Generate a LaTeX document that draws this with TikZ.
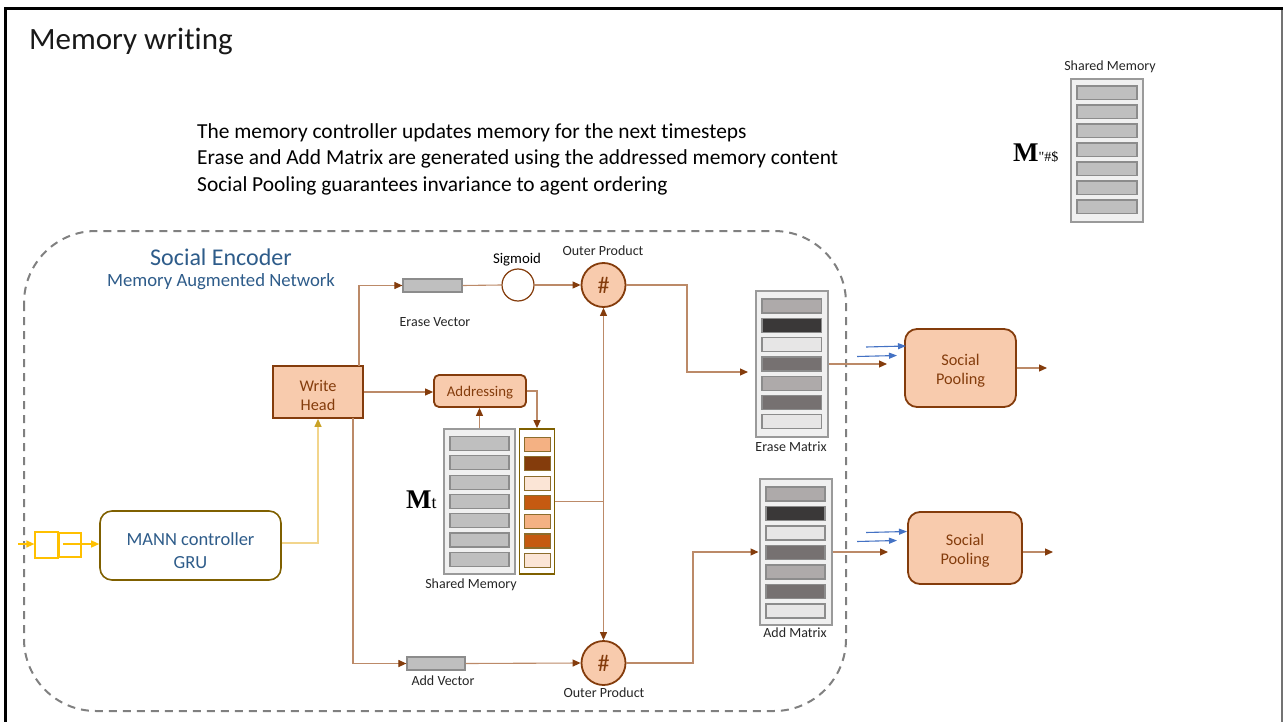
\documentclass[tikz,border=0pt]{standalone}
\usepackage{fontspec}
\setmainfont{Carlito}[Ligatures={TeX,CommonOff}]
\newfontfamily\serifbf{Liberation Serif}
\usetikzlibrary{arrows.meta,calc}

\definecolor{peach}{HTML}{F8CBAD}
\definecolor{rust}{HTML}{843C0C}
\definecolor{wire}{HTML}{BC8A68}
\definecolor{navy}{HTML}{2E5C8A}
\definecolor{olive}{HTML}{7F6000}
\definecolor{amber}{HTML}{FFC000}
\definecolor{paleamber}{HTML}{F2D58C}
\definecolor{amberdark}{HTML}{C9A227}
\definecolor{memfill}{HTML}{F0F0F0}
\definecolor{memedge}{HTML}{9A9A9A}
\definecolor{barfill}{HTML}{BFBFBF}
\definecolor{baredge}{HTML}{8C8C8C}
\definecolor{poolblue}{HTML}{4472C4}
\definecolor{wA}{HTML}{F4B183}
\definecolor{wB}{HTML}{843C0C}
\definecolor{wC}{HTML}{FBE5D6}
\definecolor{wD}{HTML}{C55A11}
\definecolor{wedge}{HTML}{8C6D2C}
\definecolor{mA}{HTML}{AEAAAA}
\definecolor{mB}{HTML}{3A3838}
\definecolor{mC}{HTML}{E7E6E6}
\definecolor{mD}{HTML}{767171}

\newcommand\fsz[2]{\fontsize{#1}{#2}\selectfont}

\tikzset{
  peachbox/.style={draw=rust, fill=peach, line width=1.8pt, inner sep=0pt},
  boxtext/.style={text=rust, align=center, inner sep=0pt},
  opcircle/.style={circle, draw=rust, fill=peach, line width=1.8pt, minimum size=44pt, inner sep=0pt, text=rust, font=\fsz{24}{26}},
  vecbox/.style={draw=baredge, fill=barfill, line width=1.2pt, minimum width=59pt, minimum height=13pt, inner sep=0pt},
  memcol/.style={draw=memedge, fill=memfill, line width=2pt, inner sep=0pt},
  smalllabel/.style={font=\fsz{14}{16}, text=black!85, inner sep=0pt},
  conn/.style={draw=wire, line width=1.1pt, -{Triangle[length=8pt,width=7pt,color=rust]}},
  plainwire/.style={draw=wire, line width=1.1pt},
  goldconn/.style={draw=paleamber, line width=1.3pt, -{Triangle[length=8pt,width=7pt,color=amberdark]}},
  inconn/.style={draw=amber, line width=1.3pt, -{Triangle[length=8pt,width=7pt,color=amber]}},
  blueconn/.style={draw=poolblue, line width=1.1pt, -{Triangle[length=8pt,width=6pt,color=poolblue]}},
  bullet/.style={anchor=base west, inner sep=0pt, font=\fsz{21.4}{25}},
}

\begin{document}
\begin{tikzpicture}[x=1pt,y=-1pt]
\useasboundingbox (0,0) rectangle (1284,722);
\fill[white] (0,0) rectangle (1284,722);

% slide frame
\draw[line width=2.5pt, black!55] (1282,9) -- (1282,730);
\draw[line width=3pt, black] (5,730) -- (5,9) -- (1283,9);

% title and bullet text
\node[anchor=base west, inner sep=0pt, font=\fsz{31}{35}, text=black!90] (title) at (29,50) {Memory writing};
\node[bullet] (l1) at (197,139) {The memory controller updates memory for the next timesteps};
\node[bullet] (l2) at (197,165) {Erase and Add Matrix are generated using the addressed memory content};
\node[bullet] (l3) at (197,192) {Social Pooling guarantees invariance to agent ordering};

% shared memory at the next step
\node[memcol, minimum width=72pt, minimum height=142pt] (nextmem) at (1106.5,150.5) {};
\foreach \i in {0,...,6}
  \draw[draw=baredge, fill=barfill, line width=1.2pt] (1077,86+19*\i) rectangle ++(60,13.5);
\node[smalllabel] (nextmemlbl) at (1110,67) {Shared Memory};
\node[anchor=base west, inner sep=0pt] (nextM) at (1013,162)
  {{\serifbf\bfseries\fsz{27}{30}M}{\serifbf\fsz{14}{16}\symbol{34}\#\$}};

% social encoder boundary
\draw[draw=black!50, line width=2pt, dash pattern=on 8pt off 6pt, rounded corners=72pt]
  (24,231) rectangle (846,711);
\node[font=\fsz{24}{28}, text=navy, inner sep=0pt] (enc) at (221,257) {Social Encoder};
\node[font=\fsz{18.7}{22}, text=navy, inner sep=0pt] (encsub) at (221,282) {Memory Augmented Network};

% controller and write head
\node[draw=olive, line width=1.6pt, rounded corners=12pt, fill=white, minimum width=181pt, minimum height=69pt, inner sep=0pt] (gru) at (190.5,545.5) {};
\node[align=center, text=navy, font=\fsz{18.5}{23}, inner sep=0pt] (grutext) at (190.5,551) {MANN controller\\GRU};
\node[draw=amber, line width=1.2pt, minimum width=23pt, minimum height=26pt, inner sep=0pt] (in1) at (46.5,545) {};
\node[draw=amber, line width=1.2pt, minimum width=22pt, minimum height=24pt, inner sep=0pt] (in2) at (70,545) {};
\coordinate (src) at (18,544);
\draw[inconn] (src) -- (src -| in1.west);
\draw[inconn] ($(in2.west)+(5,-1)$) -- (gru.west |- 0,544);

\node[peachbox, minimum width=90pt, minimum height=52pt] (wh) at (318,392) {};
\node[boxtext, font=\fsz{16.3}{19}] (whtext) at (318,395) {Write\\Head};
\draw[goldconn] (gru.east |- 0,543) -| (wh.south);

% addressing
\node[peachbox, rounded corners=5pt, minimum width=92pt, minimum height=32pt] (addr) at (480,391) {};
\node[boxtext, font=\fsz{14.8}{17}] (addrtext) at (480,393) {Addressing};

% shared memory M_t and its weighting
\node[memcol, minimum width=71pt, minimum height=145pt] (mt) at (479.5,501.5) {};
\foreach \i in {0,...,6}
  \draw[draw=baredge, fill=barfill, line width=1.2pt] (450,436.5+19.3*\i) rectangle ++(59,14);
\node[draw=olive, line width=1.8pt, fill=white, minimum width=35pt, minimum height=145pt, inner sep=0pt] (wc) at (537,501.5) {};
\foreach \c [count=\i from 0] in {wA,wB,wC,wD,wA,wD,wC}
  \draw[draw=wedge, fill=\c, line width=1.2pt] (524.5,437.5+19.3*\i) rectangle ++(26,14);
\node[anchor=base west, inner sep=0pt] (mtlbl) at (406,508)
  {{\serifbf\bfseries\fsz{27}{30}M}{\serifbf\fsz{18}{20}t}};
\node[smalllabel] (mtcap) at (471,585) {Shared Memory};

% erase branch
\node[vecbox] (ev) at (432.5,285.5) {};
\node[smalllabel] (evlbl) at (435,322) {Erase Vector};
\node[circle, draw=rust, line width=1.2pt, fill=white, minimum size=32pt, inner sep=0pt] (sig) at (518,285) {};
\node[font=\fsz{14.8}{17}, inner sep=0pt] (siglbl) at (517,260) {Sigmoid};
\node[opcircle] (opt) at (603.5,285) {\#};
\node[smalllabel] (optlbl) at (603,251) {Outer Product};

% add branch
\node[vecbox, minimum width=58pt] (av) at (436,663.5) {};
\node[smalllabel] (avlbl) at (443,681) {Add Vector};
\node[opcircle] (opb) at (603.5,663) {\#};
\node[smalllabel] (opblbl) at (604,693) {Outer Product};

% erase and add matrices
\node[memcol, minimum width=72pt, minimum height=146pt] (em) at (792,364) {};
\foreach \c [count=\i from 0] in {mA,mB,mC,mD,mA,mD,mC}
  \draw[draw=baredge, fill=\c, line width=1.2pt] (762,299+19.3*\i) rectangle ++(59.5,14);
\node[smalllabel] (emlbl) at (791,447) {Erase Matrix};
\node[memcol, minimum width=72pt, minimum height=146pt] (am) at (795.5,552) {};
\foreach \c [count=\i from 0] in {mA,mB,mC,mD,mA,mD,mC}
  \draw[draw=baredge, fill=\c, line width=1.2pt] (766,487+19.5*\i) rectangle ++(59,14);
\node[smalllabel] (amlbl) at (795,633) {Add Matrix};

% social pooling
\node[peachbox, rounded corners=12pt, minimum width=111pt, minimum height=78pt] (spt) at (960.5,368) {};
\node[boxtext, font=\fsz{16.3}{19}] (spttext) at (960.5,371) {Social\\Pooling};
\node[peachbox, rounded corners=12pt, minimum width=114pt, minimum height=72pt] (spb) at (965,548) {};
\node[boxtext, font=\fsz{16.3}{19}] (spbtext) at (965,551) {Social\\Pooling};

% connectors: write head outputs
\coordinate (whtop) at (359,366);
\coordinate (whbot) at (353,418);
\draw[conn] (whtop) |- (ev.west);
\draw[conn] (wh.east) -- (wh.east -| addr.west);
\draw[conn] (whbot) |- (av.west);

% addressing loop
\draw[conn] (addr.east) -| (wc.north);
\draw[conn] (mt.north) -- (mt.north |- addr.south);

% vectors into outer products
\draw[plainwire] (ev.east) -- (sig.west);
\draw[conn] (sig.east) -- (opt.west);
\draw[conn] (av.east) -- (opb.west);

% weighting into both outer products
\coordinate (split) at (opt.south |- wc.east);
\draw[plainwire] (wc.east) -- (split);
\draw[conn] (split) -- (opt.south);
\draw[conn] (split) -- (opb.north);

% outer products into matrices
\coordinate (ebend) at (687,285);
\draw[conn, shorten >=7pt] (opt.east) -- (ebend) |- ($(em.west)+(0,8)$);
\coordinate (abend) at (693,663);
\draw[conn] (opb.east) -- (abend) |- (am.west);

% matrices towards pooling
\coordinate (eout) at (887,364);
\coordinate (aout) at (888,552);
\draw[conn] (em.east) -- (eout);
\draw[conn] (am.east |- aout) -- (aout);
\coordinate (eb1) at (866,347);
\coordinate (eb2) at (857,356.5);
\coordinate (ab1) at (866,532.5);
\coordinate (ab2) at (857,541.5);
\coordinate (eb1e) at (906,346);
\coordinate (eb2e) at (897,355.5);
\coordinate (ab1e) at (907,531.5);
\coordinate (ab2e) at (897,540.5);
\draw[blueconn] (eb1) -- (eb1e);
\draw[blueconn] (eb2) -- (eb2e);
\draw[blueconn] (ab1) -- (ab1e);
\draw[blueconn] (ab2) -- (ab2e);

% pooling outputs
\coordinate (spto) at (1047,368);
\coordinate (spbo) at (1053,552);
\draw[conn] (spt.east) -- (spto);
\draw[conn] (spb.east |- spbo) -- (spbo);
\end{tikzpicture}
\end{document}
